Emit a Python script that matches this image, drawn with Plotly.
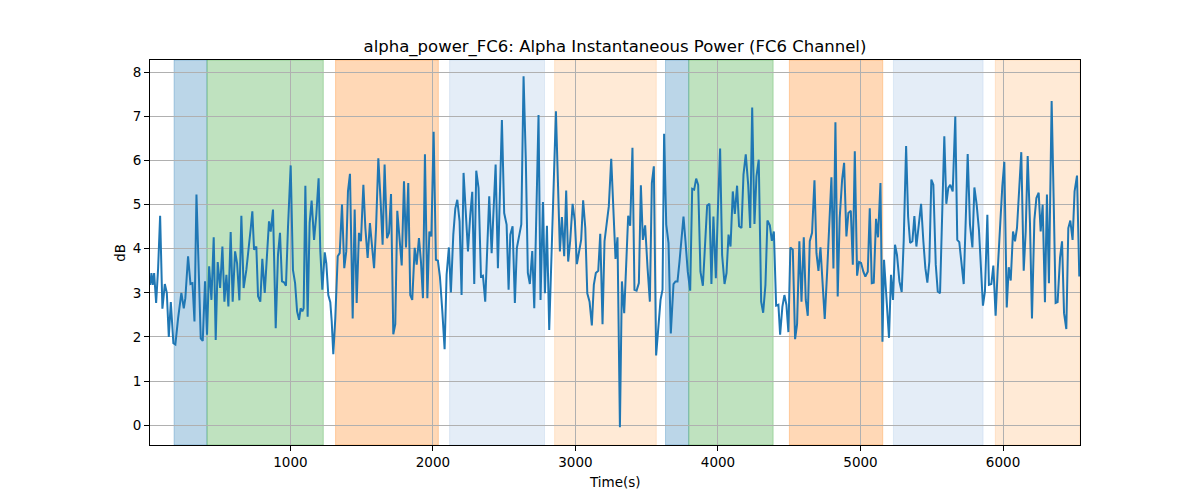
import plotly.graph_objects as go

# ---- data ----
time_s = [16, 25, 34, 44, 58, 72, 86, 102, 119, 133, 147, 161, 179, 193, 212, 235, 252, 263, 282, 299,
          313, 327, 341, 355, 371, 385, 401, 415, 430, 446, 462, 476, 490, 507, 523, 537, 551, 565, 581, 595,
          612, 626, 642, 656, 672, 691, 708, 722, 733,
          745, 761, 773, 789, 803, 820, 836, 850, 862, 878, 897, 913, 927, 941, 955, 969, 983, 1002, 1018, 1033,
          1047, 1061, 1072, 1084, 1093, 1105, 1121, 1135, 1149, 1166, 1182, 1198, 1210, 1224, 1241, 1252, 1266,
          1280, 1290, 1301, 1315, 1332, 1346, 1362, 1378, 1392, 1404, 1418, 1437, 1451, 1465, 1481,
          1495, 1512, 1526, 1542, 1558, 1572, 1587, 1601, 1617, 1633, 1647, 1661, 1678, 1692, 1706, 1722, 1736,
          1750, 1766, 1781, 1797, 1811, 1827, 1841, 1855, 1872, 1886, 1902, 1916, 1930, 1944, 1961, 1975, 1989,
          2005, 2021, 2035, 2049, 2066, 2082, 2096, 2112, 2126, 2143, 2157, 2171, 2187, 2201, 2215,
          2246, 2262, 2276, 2290, 2304, 2320, 2337, 2351, 2367, 2395, 2412, 2440, 2456, 2484, 2500, 2517, 2531,
          2543, 2559, 2575, 2589, 2620, 2636, 2652, 2666, 2680, 2697, 2711, 2741, 2755, 2772, 2786, 2800, 2816,
          2863, 2891, 2905, 2921, 2935, 2949,
          2963, 2980, 2996, 3010, 3026, 3040, 3054, 3069, 3083, 3099, 3115, 3129, 3143, 3160, 3174, 3190, 3204,
          3220, 3234, 3251, 3267, 3281, 3295, 3312, 3326, 3342, 3356, 3370, 3384, 3400, 3414, 3429, 3445, 3459,
          3473, 3489, 3506, 3522, 3536, 3550, 3566, 3583, 3597, 3611, 3622, 3637, 3653, 3669,
          3688, 3702, 3716, 3730, 3744, 3758, 3772, 3788, 3805, 3819, 3833, 3847, 3861, 3877, 3894, 3910, 3924,
          3940, 3954, 3968, 3985, 3999, 4015, 4029, 4046, 4060, 4074, 4088, 4104, 4118, 4134, 4148, 4165, 4179,
          4195, 4212, 4226, 4240, 4256, 4270, 4286, 4303, 4317, 4333, 4347, 4364, 4378, 4392, 4408, 4424,
          4436, 4452, 4466, 4480, 4494, 4508, 4525, 4541, 4555, 4571, 4586, 4602, 4616, 4630, 4644, 4660, 4677,
          4691, 4705, 4719, 4735, 4749, 4766, 4780, 4796, 4810, 4824, 4840, 4854, 4871, 4885, 4901, 4915, 4932,
          4946, 4960, 4976, 4990, 5004, 5020, 5034, 5051, 5065, 5079, 5093, 5109, 5123, 5140, 5154, 5165,
          5184, 5200, 5214, 5228, 5242, 5256, 5273, 5289, 5303, 5320, 5334, 5348, 5364, 5378, 5392, 5408, 5425,
          5441, 5455, 5469, 5483, 5497, 5511, 5528, 5542, 5558, 5572, 5588, 5602, 5616, 5630, 5647, 5665, 5679,
          5693, 5710, 5724, 5738, 5752, 5768, 5785, 5799, 5815, 5831, 5845, 5859, 5873, 5890, 5901,
          5918, 5932, 5948, 5962, 5979, 5995, 6009, 6026, 6040, 6054, 6070, 6084, 6098, 6112, 6128, 6145, 6159,
          6173, 6189, 6203, 6220, 6234, 6250, 6264, 6278, 6294, 6308, 6322, 6341, 6355, 6369, 6383, 6400, 6414,
          6428, 6444, 6458, 6472, 6488, 6502, 6519, 6535]

power_db = [3.18, 3.45, 3.18, 3.45, 2.77, 3.56, 4.75, 2.64, 3.2, 3.0, 2.0, 2.79, 1.86, 1.83, 2.42, 3.0, 2.65, 2.88, 3.83, 3.2,
            3.22, 2.35, 5.23, 3.56, 1.97, 1.91, 3.26, 2.05, 3.6, 2.84, 4.26, 1.93, 3.7, 3.11, 4.05, 2.8, 3.41, 2.69, 4.38, 2.8,
            3.94, 3.67, 2.83, 4.75, 3.11, 3.52, 3.98, 4.47, 4.85,
            3.98, 4.05, 2.92, 2.8, 3.77, 3.0, 3.86, 4.62, 4.39, 4.89, 2.2, 3.86, 4.36, 3.26, 3.24, 3.16, 4.47, 5.89, 3.52, 3.22,
            2.58, 2.39, 2.65, 2.58, 2.65, 5.43, 2.46, 4.58, 5.09, 4.2, 4.77, 5.6, 3.94, 3.07, 3.92, 3.67, 2.95,
            2.79, 2.35, 1.61, 2.42, 3.83, 3.9, 5.0, 3.56, 3.94, 5.3, 5.7, 2.42, 4.89, 2.77, 4.36,
            4.17, 5.45, 4.47, 3.79, 4.58, 3.98, 3.56, 4.47, 6.05, 5.08, 4.09, 5.91, 4.24, 4.36, 5.24, 2.06, 2.29,
            4.86, 4.17, 3.62, 5.53, 4.03, 5.49, 2.95, 2.84, 4.02, 3.64, 4.24, 3.71, 2.88, 6.14, 2.88, 4.39, 4.28,
            6.65, 3.75, 3.73, 3.37, 2.58, 1.72, 3.41, 4.03, 3.01, 4.32, 4.91, 5.11, 4.62, 2.95, 5.72,
            3.94, 4.77, 5.29, 3.2, 5.77, 5.38, 3.37, 3.39, 2.8, 5.19, 3.9, 5.91, 3.56, 6.92, 4.81, 4.55, 3.07,
            4.32, 4.51, 2.77, 4.02, 4.55, 7.91, 5.98, 3.45, 3.2, 3.95, 2.65, 7.03, 2.84, 5.06, 2.99, 4.52, 2.16,
            7.12, 3.94, 4.72, 3.83, 5.32, 3.71,
            4.17, 5.02, 4.62, 3.65, 3.94, 4.2, 5.1, 4.47, 2.99, 2.8, 2.26, 3.18, 3.45, 3.5, 4.34, 2.29, 4.17,
            4.55, 4.96, 6.04, 4.62, 3.77, 4.26, -0.05, 3.26, 2.54, 3.64, 4.75, 4.52, 6.29, 3.07, 3.05, 3.22, 5.44,
            4.2, 4.53, 3.56, 2.8, 5.49, 5.87, 1.58, 2.35, 2.84, 3.07, 6.61, 4.55, 4.13, 2.08,
            3.2, 3.26, 3.26, 3.71, 4.28, 4.73, 4.17, 3.48, 3.05, 5.36, 5.34, 5.59, 5.45, 3.48, 3.16, 4.02, 4.98,
            5.02, 3.2, 4.73, 3.33, 4.85, 6.27, 3.86, 3.2, 3.45, 4.32, 4.05, 5.3, 4.79, 5.43, 4.51, 4.47, 5.68,
            6.14, 5.45, 4.47, 7.2, 4.56, 5.64, 6.02, 2.8, 2.55, 3.18, 4.64, 4.53, 4.18, 4.39, 2.71, 2.73,
            2.05, 2.69, 2.95, 2.73, 2.11, 4.03, 3.98, 1.95, 2.29, 4.17, 2.8, 4.26, 2.84, 2.48, 4.17, 4.36, 5.55,
            3.9, 3.5, 4.03, 3.26, 2.41, 3.48, 4.39, 5.62, 3.55, 6.87, 2.92, 4.7, 5.57, 5.95, 4.28, 4.81, 4.86,
            3.64, 6.21, 3.39, 3.7, 3.68, 3.48, 3.37, 3.48, 4.92, 3.22, 3.23, 4.68, 4.26, 5.49, 1.89, 3.75,
            2.8, 1.98, 3.41, 2.84, 4.09, 3.86, 3.26, 3.02, 4.17, 6.33, 4.73, 4.13, 4.17, 4.74, 4.05, 4.51, 5.02,
            4.17, 3.56, 3.23, 3.71, 5.57, 5.45, 3.64, 3.03, 2.99, 4.62, 6.55, 5.02, 5.38, 5.45, 5.3, 7.0, 4.2,
            4.15, 3.64, 3.2, 4.62, 6.15, 4.55, 4.03, 5.39, 5.0, 4.43, 3.52, 2.71, 3.03, 4.77, 3.18,
            3.2, 3.62, 2.48, 3.48, 4.55, 5.42, 5.97, 2.67, 3.58, 3.28, 4.39, 4.17, 4.47, 5.38, 6.19, 3.5, 4.39,
            6.1, 4.58, 2.42, 4.66, 5.15, 5.27, 4.39, 5.0, 2.79, 5.23, 3.22, 7.35, 5.15, 2.77, 2.79, 3.8, 4.17,
            2.54, 2.18, 4.47, 4.64, 4.2, 5.3, 5.66, 3.37]

# shaded intervals (start, end, kind)
span_start = [184, 415, 1317, 2117, 2854, 3632, 3795, 4501, 5231, 5946]
span_end = [415, 1231, 2038, 2783, 3567, 3795, 4387, 5156, 5860, 6540]
span_kind = ["blue", "green", "orange", "lightblue", "lightorange",
             "blue", "green", "orange", "lightblue", "lightorange"]

x_ticks = [1000, 2000, 3000, 4000, 5000, 6000]
y_ticks = [0, 1, 2, 3, 4, 5, 6, 7, 8]

kind_color = {
    "blue": "rgba(31,119,180,0.3)",
    "green": "rgba(44,160,44,0.3)",
    "orange": "rgba(255,127,14,0.3)",
    "lightblue": "rgba(174,199,232,0.33)",
    "lightorange": "rgba(255,187,120,0.3)",
}

fig = go.Figure()
fig.add_trace(go.Scatter(x=time_s, y=power_db, mode="lines",
                         line=dict(color="#1f77b4", width=2), showlegend=False))

for s, e, k in zip(span_start, span_end, span_kind):
    fig.add_vrect(x0=s, x1=e, fillcolor=kind_color[k], line=dict(width=1, color=kind_color[k]),
                  layer="below")

font = "DejaVu Sans, Liberation Sans, sans-serif"
axis_common = dict(showline=True, linecolor="black", linewidth=1, mirror=True,
                   ticks="outside", ticklen=5, tickwidth=1, tickcolor="black",
                   showgrid=True, gridcolor="#b0b0b0", gridwidth=1, zeroline=False,
                   tickfont=dict(family=font, size=13.5, color="black"))

fig.update_layout(
    width=1200, height=500,
    margin=dict(l=150, r=120, t=60, b=55),
    paper_bgcolor="white", plot_bgcolor="white",
    title=dict(text="alpha_power_FC6: Alpha Instantaneous Power (FC6 Channel)",
               x=0.5125, xanchor="center", y=1 - 46 / 500, yanchor="middle", yref="container",
               font=dict(family=font, size=16.5, color="black")),
    xaxis=dict(range=[15, 6540], tickvals=x_ticks, **axis_common),
    yaxis=dict(range=[-0.45, 8.28], tickvals=y_ticks, **axis_common),
    annotations=[
        dict(text="Time(s)", xref="paper", yref="paper", x=0.5, y=-0.095, yanchor="middle",
             showarrow=False, font=dict(family=font, size=13.5, color="black")),
        dict(text="dB", xref="paper", yref="paper", x=-0.033, y=0.5, xanchor="center",
             textangle=-90, showarrow=False, font=dict(family=font, size=13.5, color="black")),
    ],
)

fig.write_html("out.html")
